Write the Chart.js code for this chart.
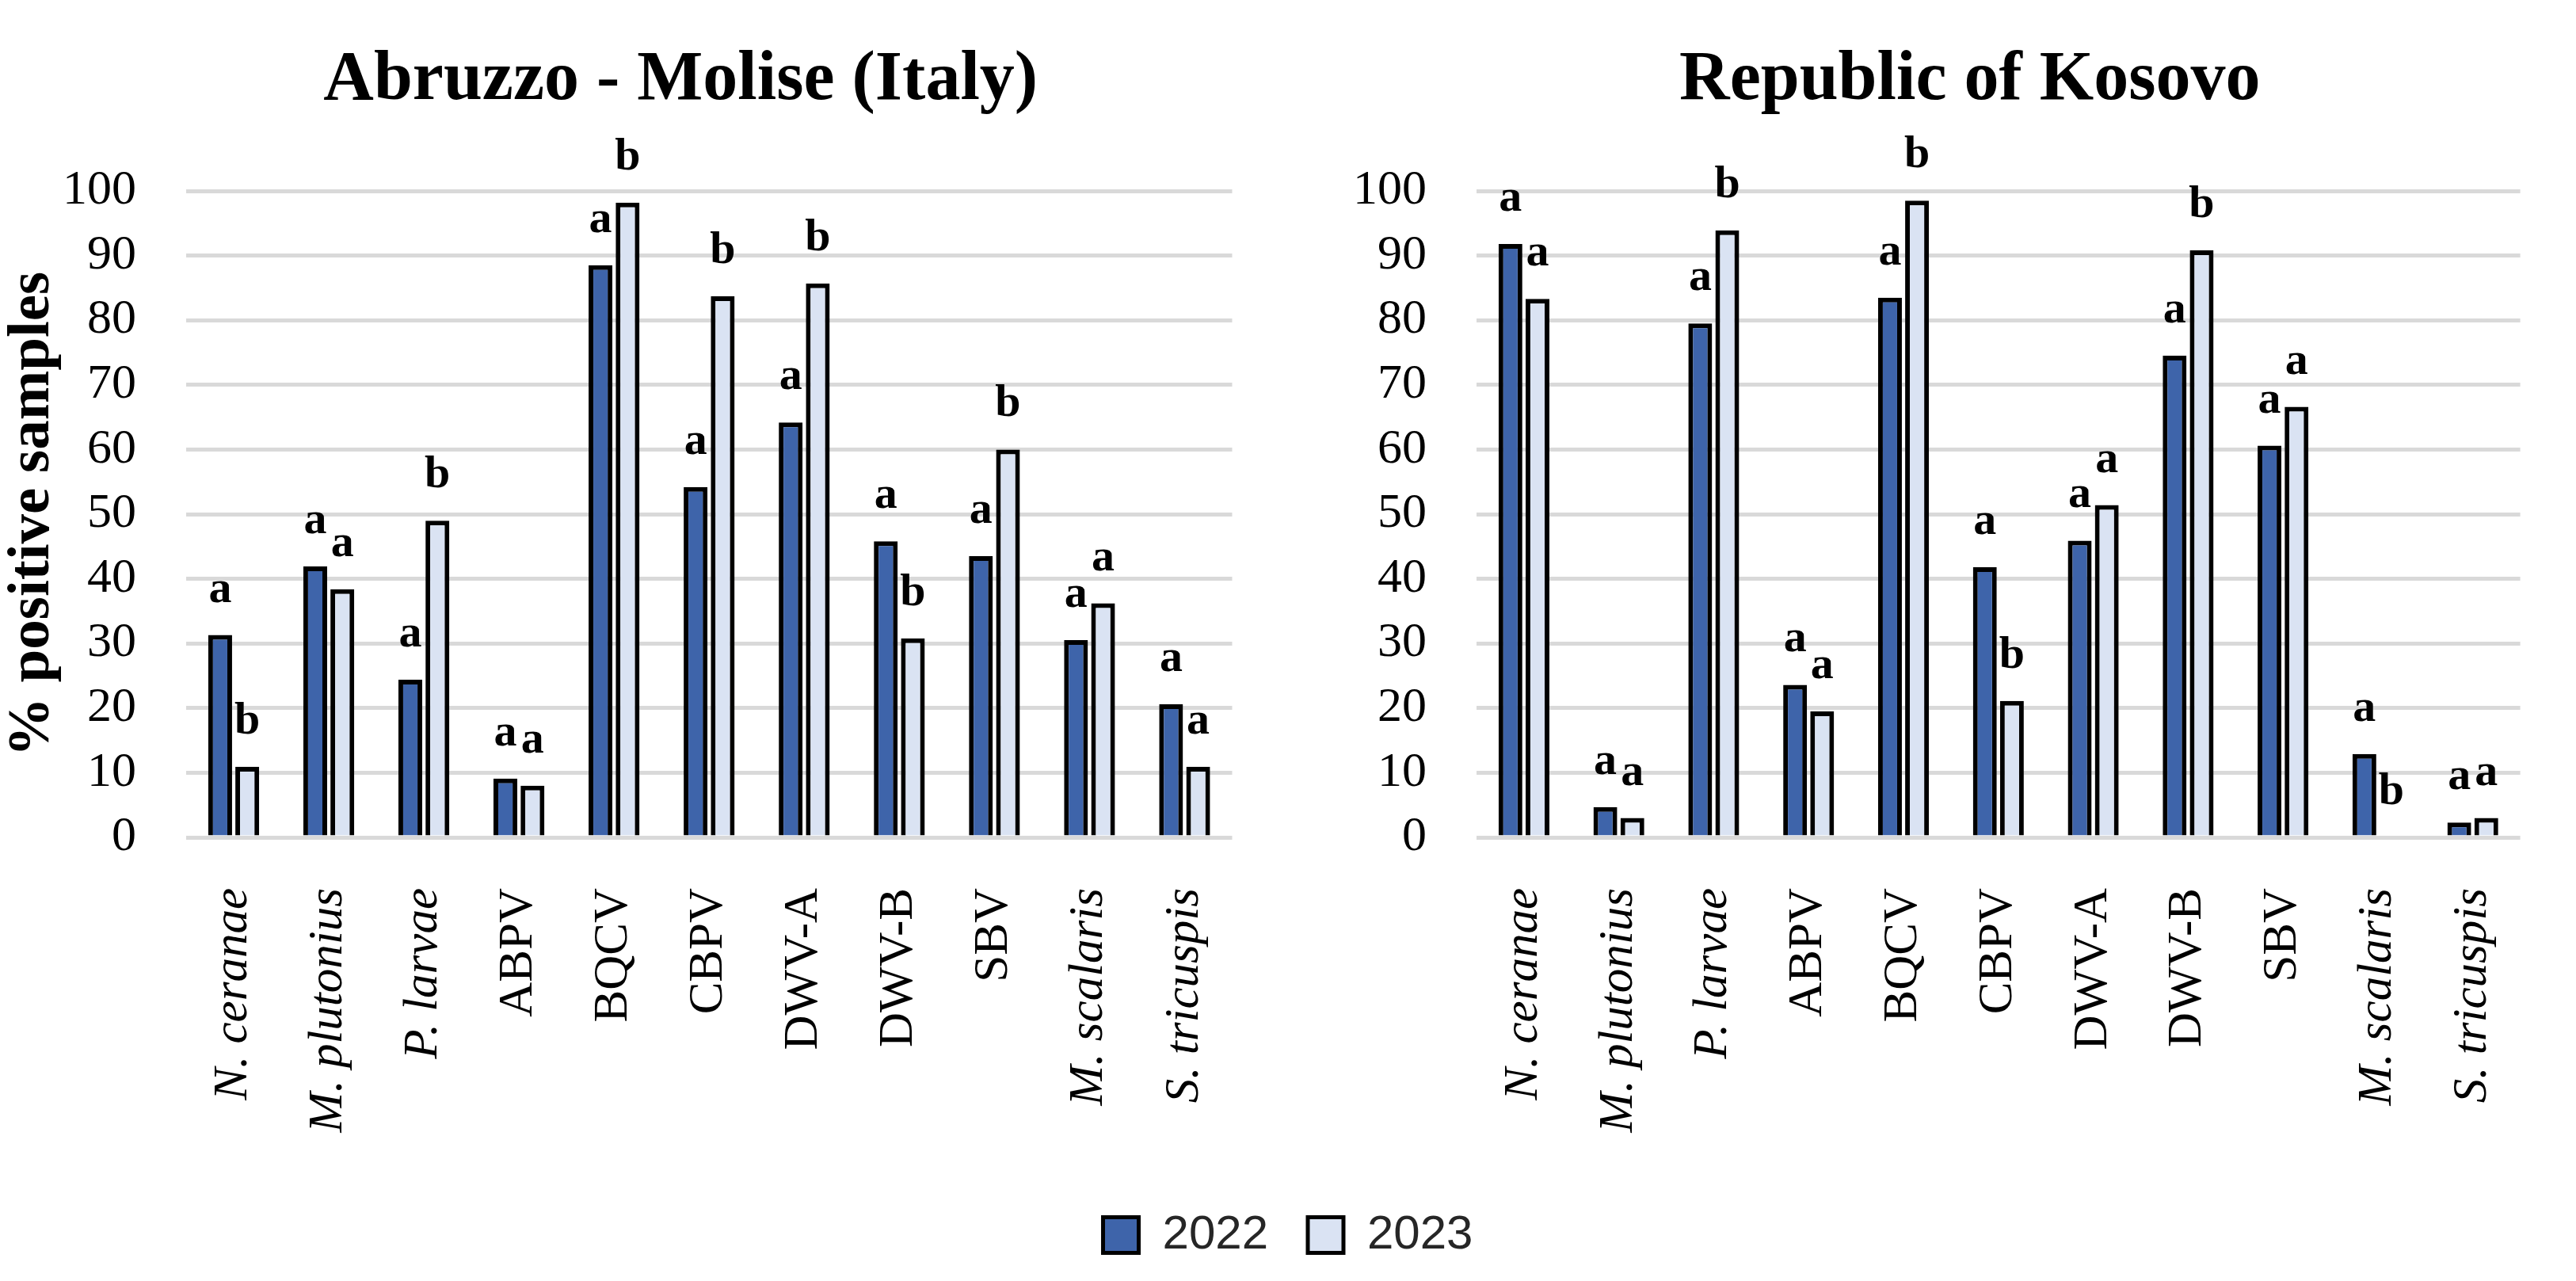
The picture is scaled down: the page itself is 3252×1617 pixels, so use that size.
<!DOCTYPE html>
<html>
<head>
<meta charset="utf-8">
<script src="https://cdn.jsdelivr.net/npm/chart.js@4.4.1/dist/chart.umd.min.js"></script>
<style>
    body { margin: 0; background: #fff; }
    #wrap { position: relative; width: 3252px; height: 1617px; overflow: hidden; }
    canvas { position: absolute; }
</style>
</head>
<body>
<div id="wrap">
    <canvas id="italyChart" width="1626" height="1480" style="left:0;top:0"></canvas>
    <canvas id="kosovoChart" width="1626" height="1480" style="left:1626px;top:0"></canvas>
    <canvas id="legendChart" width="3252" height="400" style="left:0;top:1479px"></canvas>
</div>
<script>
// Categories (pathogens)
const categories = ['N. ceranae', 'M. plutonius', 'P. larvae', 'ABPV', 'BQCV', 'CBPV',
    'DWV-A', 'DWV-B', 'SBV', 'M. scalaris', 'S. tricuspis'];
const italicCategories = ['N. ceranae', 'M. plutonius', 'P. larvae', 'M. scalaris', 'S. tricuspis'];
const years = ['2022', '2023'];

// % positive samples
const italy2022 = [31.3, 41.9, 24.4, 9.1, 88.5, 54.2, 64.2, 45.8, 43.5, 30.5, 20.6];
const italy2023 = [10.9, 38.4, 49.0, 8.0, 98.2, 83.7, 85.7, 30.8, 60.0, 36.2, 10.9];
const kosovo2022 = [91.8, 4.7, 79.5, 23.6, 83.5, 41.8, 45.9, 74.5, 60.6, 12.9, 2.3];
const kosovo2023 = [83.3, 3.0, 93.9, 19.5, 98.5, 21.1, 51.4, 90.8, 66.6, 0, 3.0];

// significance letters
const italyLetters2022 = ['a', 'a', 'a', 'a', 'a', 'a', 'a', 'a', 'a', 'a', 'a'];
const italyLetters2023 = ['b', 'a', 'b', 'a', 'b', 'b', 'b', 'b', 'b', 'a', 'a'];
const kosovoLetters2022 = ['a', 'a', 'a', 'a', 'a', 'a', 'a', 'a', 'a', 'a', 'a'];
const kosovoLetters2023 = ['a', 'a', 'b', 'a', 'b', 'b', 'a', 'b', 'a', 'b', 'a'];

const yTicks = [0, 10, 20, 30, 40, 50, 60, 70, 80, 90, 100];

const serif = '"Liberation Serif", "Times New Roman", serif';
const color2022 = '#3e64aa';
const color2023 = '#dae3f3';

Chart.defaults.color = '#000';

function makePanel(canvasId, title, d22, d23, l22, l23, showYTitle, yWidth, padRight) {
    const letters = [l22, l23];

    // letters above every bar
    const letterPlugin = {
        id: 'sigLetters',
        afterDatasetsDraw(chart) {
            const ctx = chart.ctx;
            ctx.save();
            ctx.font = 'bold 58px ' + serif;
            ctx.textAlign = 'center';
            ctx.textBaseline = 'alphabetic';
            ctx.fillStyle = '#000';
            chart.data.datasets.forEach((ds, di) => {
                chart.getDatasetMeta(di).data.forEach((bar, i) => {
                    ctx.fillText(letters[di][i], bar.x, bar.y - 42);
                });
            });
            ctx.restore();
        }
    };

    // panel title
    const titlePlugin = {
        id: 'panelTitle',
        afterDraw(chart) {
            const { ctx, chartArea } = chart;
            ctx.save();
            ctx.font = 'bold 88px ' + serif;
            ctx.textAlign = 'center';
            ctx.textBaseline = 'alphabetic';
            ctx.fillStyle = '#000';
            ctx.fillText(title, (chartArea.left + chartArea.right) / 2 - 36, 125);
            ctx.restore();
        }
    };

    return new Chart(document.getElementById(canvasId), {
        type: 'bar',
        data: {
            labels: categories,
            datasets: [{
                label: years[0],
                data: d22,
                backgroundColor: color2022,
                borderColor: '#000',
                borderWidth: (c) => (c.raw === 0 ? 0 : 6)
            }, {
                label: years[1],
                data: d23,
                backgroundColor: color2023,
                borderColor: '#000',
                borderWidth: (c) => (c.raw === 0 ? 0 : 6)
            }]
        },
        options: {
            responsive: false,
            animation: false,
            devicePixelRatio: 1,
            categoryPercentage: 0.57,
            barPercentage: 0.88,
            layout: { padding: { top: 241, right: padRight, left: 0, bottom: 0 } },
            plugins: {
                legend: { display: false },
                tooltip: { enabled: false }
            },
            scales: {
                x: {
                    grid: { display: false },
                    border: { display: false },
                    ticks: {
                        autoSkip: false,
                        minRotation: 90,
                        maxRotation: 90,
                        padding: 56,
                        color: '#000',
                        font: (c) => ({
                            family: serif,
                            size: 61,
                            style: italicCategories.includes(categories[c.index]) ? 'italic' : 'normal'
                        })
                    },
                    afterFit: (s) => { s.height = 423; }
                },
                y: {
                    min: 0,
                    max: 100,
                    afterBuildTicks: (s) => { s.ticks = yTicks.map(v => ({ value: v })); },
                    grid: { color: '#d9d9d9', lineWidth: 5, drawTicks: false },
                    border: { display: false },
                    ticks: {
                        padding: 63,
                        color: '#000',
                        font: { family: serif, size: 62 }
                    },
                    title: {
                        display: showYTitle,
                        text: '% positive samples',
                        color: '#000',
                        padding: 0,
                        font: { family: serif, size: 75, weight: 'bold', lineHeight: 1.1 }
                    },
                    afterFit: (s) => { s.width = yWidth; }
                }
            }
        },
        plugins: [letterPlugin, titlePlugin]
    });
}

makePanel('italyChart', 'Abruzzo - Molise (Italy)', italy2022, italy2023,
    italyLetters2022, italyLetters2023, true, 235, 29);
makePanel('kosovoChart', 'Republic of Kosovo', kosovo2022, kosovo2023,
    kosovoLetters2022, kosovoLetters2023, false, 238, 24);

// shared legend at the bottom
new Chart(document.getElementById('legendChart'), {
    type: 'bar',
    data: {
        labels: [''],
        datasets: [
            { label: years[0], data: [null], backgroundColor: color2022, borderColor: '#000', borderWidth: 5 },
            { label: years[1], data: [null], backgroundColor: color2023, borderColor: '#000', borderWidth: 5 }
        ]
    },
    options: {
        responsive: false,
        animation: false,
        devicePixelRatio: 1,
        layout: { padding: 0 },
        scales: { x: { display: false }, y: { display: false } },
        plugins: {
            tooltip: { enabled: false },
            legend: {
                display: true,
                position: 'top',
                labels: {
                    boxWidth: 45,
                    boxHeight: 45,
                    padding: 50,
                    color: '#262626',
                    font: { family: '"Liberation Sans", Arial, sans-serif', size: 60 }
                }
            }
        }
    }
});
</script>
</body>
</html>
